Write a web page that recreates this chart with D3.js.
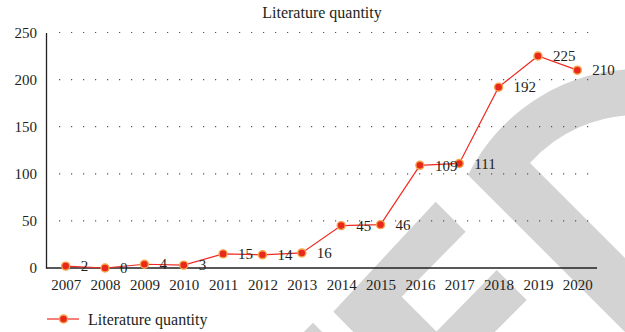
<!DOCTYPE html>
<html>
<head>
<meta charset="utf-8">
<script src="https://cdn.jsdelivr.net/npm/d3@7"></script>
<style>
  html, body { margin: 0; padding: 0; background: #fff; }
  svg { display: block; }
  text { font-family: "Liberation Serif", "Times New Roman", serif; fill: #231f20; }
</style>
</head>
<body>
<svg id="chart" width="625" height="332"></svg>
<script>
// Publications per year
const years = ["2007","2008","2009","2010","2011","2012","2013","2014","2015","2016","2017","2018","2019","2020"];
const counts = [2, 0, 4, 3, 15, 14, 16, 45, 46, 109, 111, 192, 225, 210];
const yTicks = [0, 50, 100, 150, 200, 250];
const seriesName = "Literature quantity";
const chartTitle = "Literature quantity";

const svg = d3.select("#chart");
const plot = { left: 46, right: 597, top: 32.5, bottom: 268 };

// Light grey background lettering behind the plot
const bg = svg.append("g").attr("fill", "#d3d3d3");
bg.append("path").attr("d",
  "M640,69 A191,191 0 0 0 468,175 L660,367 L660,293 L530,163 A145,145 0 0 1 640,115 Z");
bg.append("path").attr("d",
  "M435.7,201.7 L465.7,231.7 L401.7,296.7 L436.5,331.5 L496.7,270 L526.7,300 L460,367 L388,367 L333.3,311.7 Z");
bg.append("path").attr("d", "M313,322.7 L345,355 L281,355 Z");

const x = d3.scalePoint().domain(years).range([plot.left, plot.right]).padding(0.5);
const y = d3.scaleLinear().domain([0, 250]).range([plot.bottom, plot.top]);

// Dotted horizontal gridlines
svg.append("g").selectAll("line")
  .data(yTicks.filter(d => d > 0))
  .join("line")
  .attr("x1", 59).attr("x2", 590)
  .attr("y1", d => y(d)).attr("y2", d => y(d))
  .attr("stroke", "#555").attr("stroke-width", 1.2)
  .attr("stroke-dasharray", "1.2,10.8");

// Y axis
const yAxis = svg.append("g").attr("transform", `translate(${plot.left},0)`)
  .call(d3.axisLeft(y).tickValues(yTicks).tickSize(0).tickPadding(9));
yAxis.select(".domain").attr("stroke", "#231f20").attr("stroke-width", 1.3);
yAxis.selectAll("text").attr("font-size", 15).attr("fill", "#231f20")
  .style("font-family", "'Liberation Serif', serif");

// X axis
const xAxis = svg.append("g").attr("transform", `translate(0,${plot.bottom})`)
  .call(d3.axisBottom(x).tickSize(0).tickPadding(11));
xAxis.select(".domain").attr("d", `M${plot.left},0H${plot.right}`)
  .attr("stroke", "#231f20").attr("stroke-width", 1.3);
xAxis.selectAll("text").attr("font-size", 15).attr("fill", "#231f20")
  .style("font-family", "'Liberation Serif', serif");

// Title
svg.append("text").attr("x", 322).attr("y", 18).attr("text-anchor", "middle")
  .attr("font-size", 16).text(chartTitle);

// Series line
const line = d3.line().x((d, i) => x(years[i])).y(d => y(d));
svg.append("path").datum(counts).attr("d", line)
  .attr("fill", "none").attr("stroke", "#ee2a22").attr("stroke-width", 1.2);

// Markers
svg.append("g").selectAll("circle").data(counts).join("circle")
  .attr("cx", (d, i) => x(years[i])).attr("cy", d => y(d)).attr("r", 4)
  .attr("fill", "#e8281b").attr("stroke", "#f6a349").attr("stroke-width", 1.4);

// Value labels
svg.append("g").selectAll("text").data(counts).join("text")
  .attr("x", (d, i) => x(years[i]) + 15).attr("y", d => y(d))
  .attr("dy", "0.35em").attr("font-size", 15).text(d => d);

// Legend
const lg = svg.append("g").attr("transform", "translate(47,319)");
lg.append("line").attr("x1", 0).attr("x2", 32).attr("stroke", "#ee2a22").attr("stroke-width", 1.2);
lg.append("circle").attr("cx", 16.5).attr("r", 4)
  .attr("fill", "#e8281b").attr("stroke", "#f6a349").attr("stroke-width", 1.4);
lg.append("text").attr("x", 41).attr("dy", "0.35em").attr("font-size", 16).text(seriesName);
</script>
</body>
</html>
